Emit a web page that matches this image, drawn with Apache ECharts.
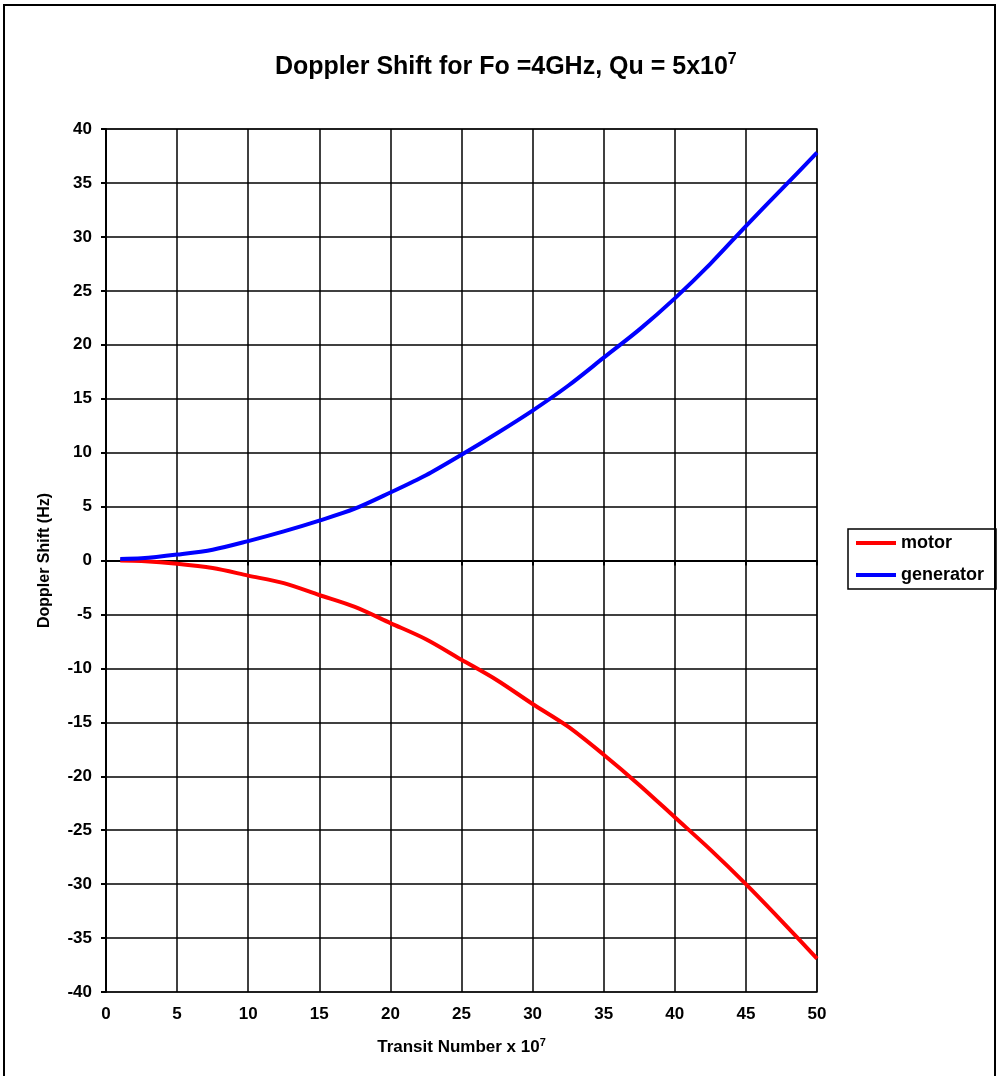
<!DOCTYPE html>
<html>
<head>
<meta charset="utf-8">
<script src="https://cdn.jsdelivr.net/npm/echarts@6/dist/echarts.min.js"></script>
<style>
* { margin: 0; padding: 0; }
#chart { width: 999px; height: 1076px; background: #fff; }
</style>
</head>
<body>
<div id="chart"></div>
<script>
// transit number (x 10^7)
var transit = [1, 2.5, 5, 7.5, 10, 12.5, 15, 17.5, 20, 22.5, 25, 27.5, 30, 32.5, 35, 37.5, 40, 42.5, 45, 47.5, 50];
// doppler shift, Hz
var motor = [0, -0.05, -0.3, -0.7, -1.4, -2.1, -3.2, -4.3, -5.8, -7.3, -9.2, -11.1, -13.3, -15.4, -18.0, -20.8, -23.8, -26.8, -30.0, -33.4, -36.9];
var generator = [0.15, 0.2, 0.55, 1.0, 1.8, 2.7, 3.7, 4.8, 6.3, 7.9, 9.8, 11.8, 13.9, 16.2, 18.8, 21.4, 24.3, 27.5, 31.0, 34.4, 37.8];

function pairs(ys) {
  return transit.map(function (x, i) { return [x, ys[i]]; });
}

var font = 'Liberation Sans, Arial, sans-serif';
var chart = echarts.init(document.getElementById('chart'));
chart.setOption({
  backgroundColor: '#fff',
  animation: false,
  textStyle: { fontFamily: font },
  title: {
    text: 'Doppler Shift for Fo =4GHz, Qu = 5x10{sup|7}',
    left: 270,
    top: 47,
    textStyle: {
      fontFamily: font,
      fontSize: 25,
      fontWeight: 'bold',
      color: '#000',
      rich: {
        sup: { fontFamily: font, fontSize: 16, fontWeight: 'bold', color: '#000', padding: [0, 0, 14, 0] }
      }
    }
  },
  graphic: [{
    type: 'rect',
    shape: { x: 4, y: 5, width: 991, height: 1090 },
    style: { fill: 'none', stroke: '#000', lineWidth: 2 },
    silent: true
  }],
  legend: {
    orient: 'vertical',
    left: 848,
    top: 529,
    padding: [5, 12, 5, 8],
    borderColor: '#000',
    borderWidth: 1.5,
    itemWidth: 40,
    itemHeight: 4,
    itemGap: 14,
    icon: 'rect',
    textStyle: { fontFamily: font, fontSize: 18, fontWeight: 'bold', color: '#000' },
    data: ['motor', 'generator']
  },
  grid: {
    left: 106,
    right: 182,
    top: 129,
    bottom: 84,
    show: true,
    borderColor: '#808080',
    borderWidth: 2
  },
  xAxis: {
    type: 'value',
    min: 0,
    max: 50,
    interval: 5,
    name: 'Transit Number x 10{sup|7}',
    nameLocation: 'middle',
    nameGap: 45,
    nameTextStyle: {
      fontFamily: font, fontSize: 17, fontWeight: 'bold', color: '#000',
      rich: { sup: { fontFamily: font, fontSize: 11, fontWeight: 'bold', color: '#000', padding: [0, 0, 10, 0] } }
    },
    axisLine: { lineStyle: { color: '#000', width: 2 } },
    axisTick: { show: true, length: 5, lineStyle: { color: '#000', width: 2 } },
    axisLabel: { fontFamily: font, fontSize: 17, fontWeight: 'bold', color: '#000', margin: 14 },
    splitLine: { show: true, lineStyle: { color: '#000', width: 1.5 } }
  },
  yAxis: {
    type: 'value',
    min: -40,
    max: 40,
    interval: 5,
    name: 'Doppler Shift (Hz)',
    nameLocation: 'middle',
    nameGap: 53,
    nameTextStyle: { fontFamily: font, fontSize: 16, fontWeight: 'bold', color: '#000' },
    axisLine: { show: true, lineStyle: { color: '#000', width: 2 } },
    axisTick: { show: true, length: 5, lineStyle: { color: '#000', width: 2 } },
    axisLabel: { fontFamily: font, fontSize: 17, fontWeight: 'bold', color: '#000', margin: 14 },
    splitLine: { show: true, lineStyle: { color: '#000', width: 1.5 } }
  },
  series: [
    {
      name: 'motor',
      type: 'line',
      smooth: 0.3,
      symbol: 'none',
      lineStyle: { color: '#ff0000', width: 4 },
      itemStyle: { color: '#ff0000' },
      data: pairs(motor)
    },
    {
      name: 'generator',
      type: 'line',
      smooth: 0.3,
      symbol: 'none',
      lineStyle: { color: '#0000ff', width: 4 },
      itemStyle: { color: '#0000ff' },
      data: pairs(generator)
    }
  ]
});
</script>
</body>
</html>
